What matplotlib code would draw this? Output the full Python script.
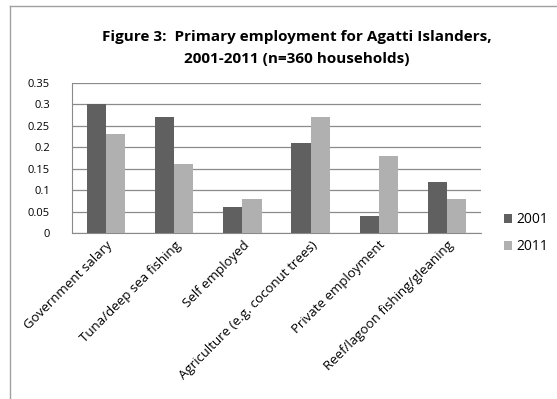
import matplotlib
matplotlib.use("Agg")
import matplotlib.pyplot as plt
from matplotlib.lines import Line2D
import numpy as np

categories = ["Government salary", "Tuna/deep sea fishing", "Self employed",
              "Agriculture (e.g. coconut trees)", "Private employment",
              "Reef/lagoon fishing/gleaning"]
values2001 = [0.30, 0.27, 0.06, 0.21, 0.04, 0.12]
values2011 = [0.23, 0.16, 0.08, 0.27, 0.18, 0.08]
yticks = [0, 0.05, 0.1, 0.15, 0.2, 0.25, 0.3, 0.35]
yticklabels = ["0", "0.05", "0.1", "0.15", "0.2", "0.25", "0.3", "0.35"]

plt.rcParams['font.family'] = ['Open Sans', 'DejaVu Sans']

fig = plt.figure(figsize=(5.57, 3.99), dpi=100)
W, H = 557, 399
ax = fig.add_axes([72 / W, 1 - 233 / H, (481 - 72) / W, (233 - 83) / H])

x = np.arange(len(categories))
width = 0.28
ax.bar(x - width / 2, values2001, width, color="#606060", label="2001", zorder=3)
ax.bar(x + width / 2, values2011, width, color="#b0b0b0", label="2011", zorder=3)

ax.set_xlim(-0.5, len(categories) - 0.5)
ax.set_ylim(0, 0.35)
ax.set_yticks(yticks)
ax.set_yticklabels(yticklabels, fontsize=8)
ax.yaxis.grid(True, color="#8a8a8a", linewidth=0.9, zorder=0)
ax.tick_params(axis="y", length=0, pad=16)
ax.tick_params(axis="x", length=0, pad=4)
ax.set_xticks(x)
ax.set_xticklabels(categories, rotation=45, ha="right", rotation_mode="anchor",
                   fontsize=9.5)
for s in ["top", "right"]:
    ax.spines[s].set_visible(False)
ax.spines["left"].set_color("#8a8a8a")
ax.spines["bottom"].set_color("#8a8a8a")

ax.legend(loc="upper left", bbox_to_anchor=(504 / W, 1 - 212 / H),
          bbox_transform=fig.transFigure, frameon=False, fontsize=10,
          handlelength=0.6, handleheight=0.6, handletextpad=0.3,
          labelspacing=0.9, borderaxespad=0, borderpad=0)

fig.text(297 / W, 1 - 37 / H, "Figure 3:  Primary employment for Agatti Islanders,",
         ha="center", va="center", fontsize=11, fontweight="bold")
fig.text(297 / W, 1 - 59 / H, "2001-2011 (n=360 households)",
         ha="center", va="center", fontsize=11, fontweight="bold")

# chart border (only left and top edges visible in crop)
fig.add_artist(Line2D([10 / W, 10 / W], [0, 1 - 6 / H], transform=fig.transFigure,
                      color="#a0a0a0", linewidth=1))
fig.add_artist(Line2D([10 / W, 1], [1 - 6 / H, 1 - 6 / H], transform=fig.transFigure,
                      color="#a0a0a0", linewidth=1))

plt.savefig("out.png", dpi=100)
